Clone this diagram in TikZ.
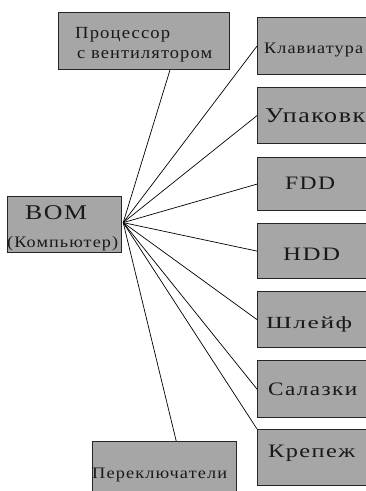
\documentclass[tikz,border=0pt]{standalone}
\usepackage{graphicx}
\usepackage{fontspec}
\setmainfont{Liberation Serif}
\newfontfamily\spacedserif[LetterSpace=6]{Liberation Serif}
\usetikzlibrary{calc}
\definecolor{boxgray}{HTML}{A6A6A6}
% #1 font size, #2 target width (pt), #3 text
\newcommand\fittxt[3]{\resizebox{#2pt}{\height}{\spacedserif\fontsize{#1}{#1}\selectfont #3}}
\begin{document}
\begin{tikzpicture}[x=1pt,y=-1pt,
  box/.style={draw=black!85, line width=1.2pt, fill=boxgray, inner sep=0pt, anchor=north west},
  lbl/.style={inner sep=0pt, anchor=base west, text=black!90},
  link/.style={line width=0.7pt, black}]
\useasboundingbox (0,0) rectangle (366,491);
\clip (0,0) rectangle (366,491);
\fill[white] (0,0) rectangle (366,491);
% boxes
\node[box, minimum width=171, minimum height=57] (proc) at (58,12) {};
\node[box, minimum width=120, minimum height=57] (klav) at (257,17) {};
\node[box, minimum width=120, minimum height=56] (upak) at (257,87) {};
\node[box, minimum width=120, minimum height=53] (fdd) at (257,157) {};
\node[box, minimum width=120, minimum height=55] (hdd) at (257,223) {};
\node[box, minimum width=120, minimum height=56] (shl) at (257,291) {};
\node[box, minimum width=120, minimum height=57] (sal) at (257,360) {};
\node[box, minimum width=120, minimum height=56] (krep) at (257,429) {};
\node[box, minimum width=114, minimum height=56] (bom) at (7,196) {};
\node[box, minimum width=144, minimum height=70] (per) at (92,441) {};
% labels
\node[lbl] (tproc1) at (75,38) {\fittxt{17}{95}{Процессор}};
\node[lbl] (tproc2) at (77,58) {\fittxt{17}{135}{с вентилятором}};
\node[lbl] (tklav) at (264,53) {\fittxt{16}{99}{Клавиатура}};
\node[lbl] (tupak) at (265,122) {\fittxt{21}{100}{Упаковк}};
\node[lbl] (tfdd) at (285,189) {\fittxt{19}{50}{FDD}};
\node[lbl] (thdd) at (283,260) {\fittxt{19}{57}{HDD}};
\node[lbl] (tshl) at (266,328) {\fittxt{17}{86}{Шлейф}};
\node[lbl] (tsal) at (268,395) {\fittxt{19}{89}{Салазки}};
\node[lbl] (tkrep) at (268,457) {\fittxt{19}{87}{Крепеж}};
\node[lbl] (tbom) at (25,219) {\fittxt{21}{62}{BOM}};
\node[lbl] (tcomp) at (7,247) {\fittxt{16}{111}{(Компьютер)}};
\node[lbl] (tper) at (92,478) {\fittxt{16}{135}{Переключатели}};
% connectors
\coordinate (hub) at ($(bom.east)+(1,-2)$);
\draw[link] (hub) -- ($(proc.south west)!0.65!(proc.south east)$);
\draw[link] (hub) -- (klav.west);
\draw[link] (hub) -- (upak.west);
\draw[link] (hub) -- (fdd.west);
\draw[link] (hub) -- (hdd.west);
\draw[link] (hub) -- (shl.west);
\draw[link] (hub) -- (sal.west);
\draw[link] (hub) -- (krep.north west);
\draw[link] (hub) -- ($(per.north west)!0.58!(per.north east)$);
\end{tikzpicture}
\end{document}
